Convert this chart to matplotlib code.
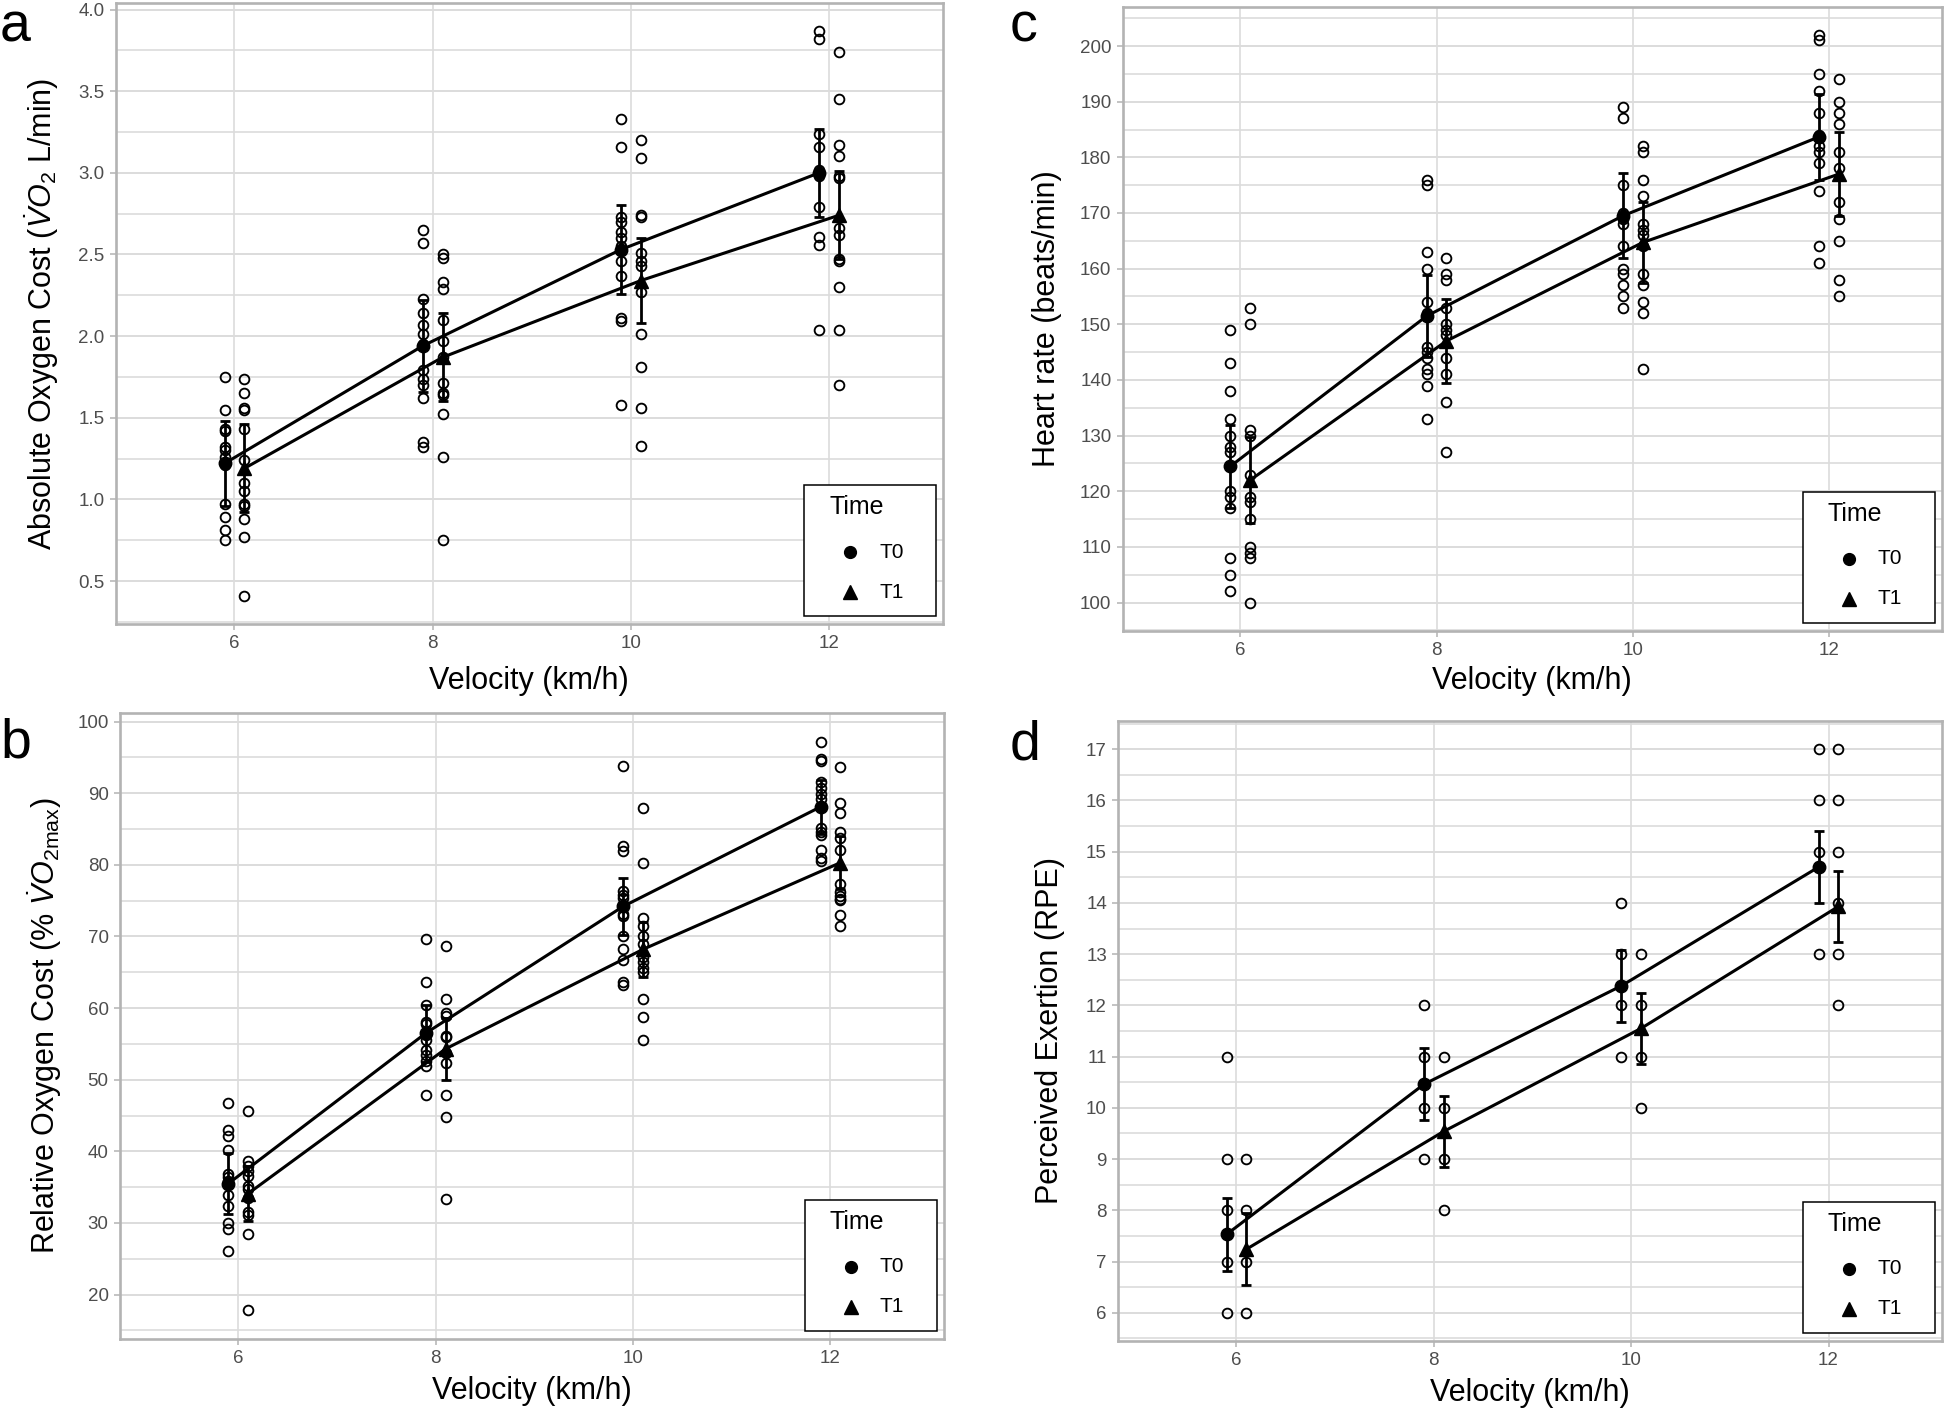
import matplotlib
matplotlib.use('Agg')
import matplotlib.pyplot as plt
from matplotlib.lines import Line2D
from matplotlib.patches import Rectangle
from matplotlib.ticker import MultipleLocator, FormatStrFormatter

plt.rcParams['font.family'] = ['Liberation Sans', 'DejaVu Sans']
plt.rcParams['mathtext.fontset'] = 'custom'
plt.rcParams['mathtext.rm'] = 'Liberation Sans'
plt.rcParams['mathtext.it'] = 'Liberation Sans:italic'
plt.rcParams['mathtext.bf'] = 'Liberation Sans:bold'

# ---------------- data ----------------
velocities = [6, 8, 10, 12]
time_labels = ['T0', 'T1']
x_label = 'Velocity (km/h)'

# (a) Absolute oxygen cost (L/min)
abs_t0 = [[1.75, 1.55, 1.43, 1.42, 1.32, 1.30, 1.26, 1.21, 0.97, 0.89, 0.81, 0.75],
          [2.65, 2.57, 2.23, 2.14, 2.07, 2.01, 1.95, 1.79, 1.74, 1.70, 1.62, 1.35, 1.32],
          [3.33, 3.16, 2.73, 2.70, 2.64, 2.60, 2.55, 2.46, 2.37, 2.11, 2.09, 1.58],
          [3.87, 3.82, 3.24, 3.16, 3.02, 2.98, 2.79, 2.61, 2.56, 2.04]]
abs_t1 = [[1.74, 1.65, 1.56, 1.55, 1.43, 1.24, 1.10, 1.05, 0.97, 0.96, 0.88, 0.77, 0.41],
          [2.50, 2.48, 2.33, 2.29, 2.10, 1.97, 1.87, 1.71, 1.65, 1.64, 1.52, 1.26, 0.75],
          [3.20, 3.09, 2.74, 2.73, 2.51, 2.46, 2.43, 2.27, 2.01, 1.81, 1.56, 1.33],
          [3.74, 3.45, 3.17, 3.10, 2.98, 2.97, 2.66, 2.62, 2.47, 2.46, 2.30, 2.04, 1.70]]
abs_mean_t0 = [1.22, 1.94, 2.53, 3.00]
abs_mean_t1 = [1.19, 1.87, 2.34, 2.74]
abs_err_t0 = [0.26, 0.28, 0.27, 0.27]
abs_err_t1 = [0.27, 0.27, 0.26, 0.27]

# (b) Relative oxygen cost (% VO2max)
rel_t0 = [[46.7, 43.0, 42.2, 40.2, 36.8, 36.4, 35.9, 33.9, 32.3, 30.0, 29.2, 26.1],
          [69.7, 63.6, 60.4, 58.1, 57.8, 56.2, 55.6, 54.2, 53.5, 52.6, 51.9, 47.9],
          [93.8, 82.6, 82.0, 76.3, 75.8, 75.4, 73.2, 72.9, 70.1, 68.3, 66.7, 63.7, 63.2],
          [97.1, 94.8, 94.5, 91.6, 90.7, 89.9, 89.2, 85.1, 84.6, 84.2, 82.1, 81.0, 80.6]]
rel_t1 = [[45.6, 38.6, 38.0, 37.2, 36.6, 35.2, 34.8, 33.5, 31.6, 31.1, 28.4, 17.9],
          [68.6, 61.3, 59.3, 58.9, 56.1, 55.9, 53.8, 52.3, 47.8, 44.8, 33.3],
          [88.0, 80.3, 72.6, 71.4, 70.0, 69.0, 67.2, 66.5, 65.6, 65.0, 61.2, 58.7, 55.6],
          [93.6, 88.6, 87.3, 84.6, 83.7, 82.1, 77.3, 76.2, 75.6, 75.3, 75.1, 73.0, 71.5]]
rel_mean_t0 = [35.5, 56.5, 74.2, 88.1]
rel_mean_t1 = [34.1, 54.3, 68.2, 80.3]
rel_err_t0 = [4.2, 4.0, 4.0, 3.8]
rel_err_t1 = [3.8, 4.3, 3.8, 3.7]

# (c) Heart rate (beats/min)
hr_t0 = [[149, 143, 138, 133, 130, 128, 127, 120, 119, 117, 108, 105, 102],
         [176, 175, 163, 160, 154, 152, 146, 145, 144, 142, 141, 139, 133],
         [189, 187, 175, 170, 169, 168, 164, 160, 159, 157, 155, 153],
         [202, 201, 195, 192, 188, 184, 182, 181, 179, 174, 164, 161]]
hr_t1 = [[153, 150, 131, 130, 123, 119, 118, 115, 110, 109, 108, 100],
         [162, 159, 158, 153, 150, 149, 148, 144, 141, 136, 127],
         [182, 181, 176, 173, 168, 167, 166, 164, 159, 157, 154, 152, 142],
         [194, 190, 188, 186, 181, 178, 172, 169, 165, 158, 155]]
hr_mean_t0 = [124.5, 151.5, 169.5, 183.7]
hr_mean_t1 = [122.0, 147.0, 164.7, 177.0]
hr_err_t0 = [7.5, 7.4, 7.6, 7.7]
hr_err_t1 = [7.7, 7.5, 7.2, 7.6]

# (d) Perceived exertion (RPE)
rpe_t0 = [[11, 9, 8, 7, 6], [12, 11, 10, 9], [14, 13, 12, 11], [17, 16, 15, 13]]
rpe_t1 = [[9, 8, 7, 6], [11, 10, 9, 8], [13, 12, 11, 10], [17, 16, 15, 14, 13, 12]]
rpe_mean_t0 = [7.53, 10.46, 12.38, 14.70]
rpe_mean_t1 = [7.24, 9.54, 11.55, 13.93]
rpe_err_t0 = [0.71, 0.70, 0.70, 0.70]
rpe_err_t1 = [0.70, 0.70, 0.70, 0.70]

# ---------------- figure ----------------
W, H = 1948, 1409
fig = plt.figure(figsize=(W / 100, H / 100), dpi=100)
fig.patch.set_facecolor('white')

GRID = '#DCDCDC'
FRAME = '#B3B3B3'
TICKTXT = '#4D4D4D'
DODGE = 0.1


def add_px_axes(l, t, r, b):
    return fig.add_axes([l / W, 1 - b / H, (r - l) / W, (b - t) / H]), (r - l), (b - t)


def draw_panel(ax, axw, axh, raw0, raw1, m0, m1, e0, e1, ylim, major, minor, fmt,
               ylabel, ylab_x, xlab_y):
    x0 = [v - DODGE for v in velocities]
    x1 = [v + DODGE for v in velocities]
    for i in range(len(velocities)):
        ax.plot([x0[i]] * len(raw0[i]), raw0[i], ls='none', marker='o', ms=7,
                mfc='none', mec='black', mew=1.35, zorder=3)
        ax.plot([x1[i]] * len(raw1[i]), raw1[i], ls='none', marker='o', ms=7,
                mfc='none', mec='black', mew=1.35, zorder=3)
    ax.plot(x0, m0, color='black', lw=2.2, zorder=4)
    ax.plot(x1, m1, color='black', lw=2.2, zorder=4)
    ax.errorbar(x0, m0, yerr=e0, fmt='none', ecolor='black', elinewidth=2.0,
                capsize=3.4, capthick=2.0, zorder=4)
    ax.errorbar(x1, m1, yerr=e1, fmt='none', ecolor='black', elinewidth=2.0,
                capsize=3.4, capthick=2.0, zorder=4)
    ax.plot(x0, m0, ls='none', marker='o', ms=9, color='black', zorder=5)
    ax.plot(x1, m1, ls='none', marker='^', ms=10, color='black', zorder=5)

    ax.set_xlim(4.8, 13.15)
    ax.set_ylim(*ylim)
    ax.set_xticks(velocities)
    ax.yaxis.set_major_locator(MultipleLocator(major))
    ax.yaxis.set_minor_locator(MultipleLocator(minor))
    ax.yaxis.set_major_formatter(FormatStrFormatter(fmt))
    ax.set_axisbelow(True)
    ax.yaxis.grid(True, which='major', color=GRID, lw=1.4)
    ax.yaxis.grid(True, which='minor', color=GRID, lw=1.2)
    ax.xaxis.grid(True, which='major', color=GRID, lw=1.2)
    for sp in ax.spines.values():
        sp.set_color(FRAME)
        sp.set_linewidth(1.9)
    ax.tick_params(which='major', length=4, width=1.1, color=FRAME,
                   labelcolor=TICKTXT, labelsize=13.5, pad=4)
    ax.tick_params(which='minor', length=0)

    ax.set_ylabel(ylabel, fontsize=22, va='center')
    ax.yaxis.set_label_coords(ylab_x, 0.5)
    ax.set_xlabel(x_label, fontsize=22, va='center')
    ax.xaxis.set_label_coords(0.5, xlab_y)

    # legend box (pixel offsets from axes lower-right corner)
    bw, bh = 132, 131
    bx = axw - 7 - bw
    by = 8
    top = by + bh
    tr = ax.transAxes
    ax.add_patch(Rectangle((bx / axw, by / axh), bw / axw, bh / axh, transform=tr,
                           facecolor='white', edgecolor='black', lw=1.1,
                           zorder=10, clip_on=False))
    ax.text((bx + 25) / axw, (top - 22) / axh, 'Time', transform=tr, fontsize=18,
            ha='left', va='center', zorder=11)
    for k, (mk, ms, lab) in enumerate([('o', 8.5, time_labels[0]), ('^', 9.5, time_labels[1])]):
        yy = (top - 67 - 40 * k) / axh
        ax.add_artist(Line2D([(bx + 46) / axw], [yy], transform=tr, ls='none',
                             marker=mk, ms=ms, color='black', zorder=11))
        ax.text((bx + 75) / axw, yy, lab, transform=tr, fontsize=15,
                ha='left', va='center', zorder=11)


ax_a, wa, ha = add_px_axes(115.5, 3, 943, 624)
draw_panel(ax_a, wa, ha, abs_t0, abs_t1, abs_mean_t0, abs_mean_t1, abs_err_t0, abs_err_t1,
           (0.237, 4.04), 0.5, 0.25, '%.1f',
           r'Absolute Oxygen Cost ($\dot{V}O_2$ L/min)', (42 - 115.5) / wa, -57 / ha)

ax_c, wc, hc = add_px_axes(1122.5, 6.5, 1942, 631)
draw_panel(ax_c, wc, hc, hr_t0, hr_t1, hr_mean_t0, hr_mean_t1, hr_err_t0, hr_err_t1,
           (94.9, 207.1), 10, 5, '%d',
           'Heart rate (beats/min)', (1047 - 1122.5) / wc, -50 / hc)

ax_b, wb, hb = add_px_axes(119.8, 713, 944, 1339)
draw_panel(ax_b, wb, hb, rel_t0, rel_t1, rel_mean_t0, rel_mean_t1, rel_err_t0, rel_err_t1,
           (13.8, 101.2), 10, 5, '%d',
           r'Relative Oxygen Cost (% $\dot{V}O_{\mathrm{2max}}$)', (45 - 119.8) / wb, -52 / hb)

ax_d, wd, hd = add_px_axes(1118, 721, 1942, 1341)
draw_panel(ax_d, wd, hd, rpe_t0, rpe_t1, rpe_mean_t0, rpe_mean_t1, rpe_err_t0, rpe_err_t1,
           (5.45, 17.55), 1, 0.5, '%d',
           'Perceived Exertion (RPE)', (1050 - 1118) / wd, -52 / hd)

for lab, x, yb in [('a', 0, 41), ('c', 1010, 41), ('b', 0, 758), ('d', 1010, 760)]:
    fig.text(x / W, 1 - yb / H, lab, fontsize=40, ha='left', va='baseline')

fig.savefig('out.png', dpi=100, facecolor='white')
